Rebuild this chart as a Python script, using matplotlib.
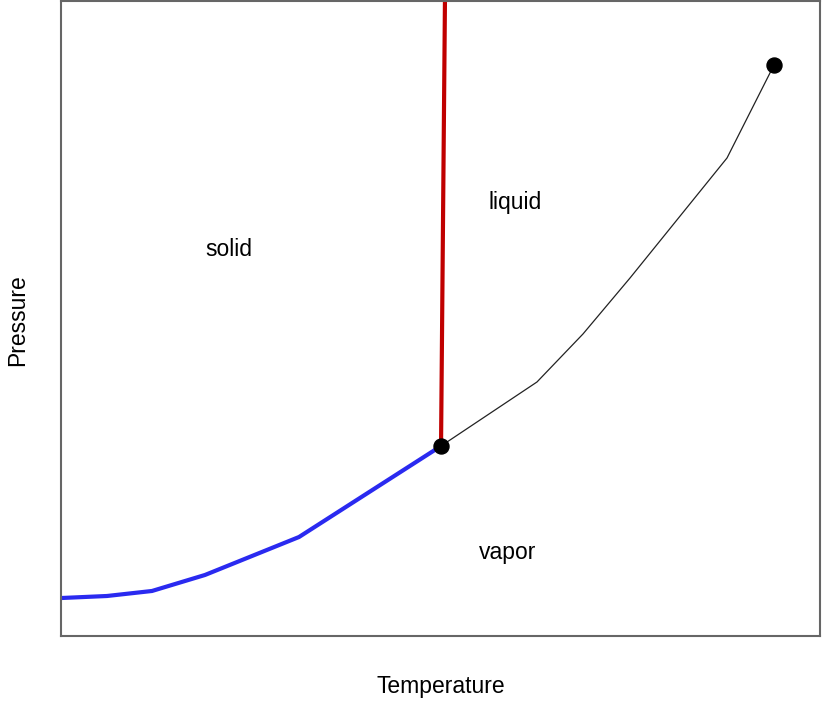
import matplotlib
matplotlib.use("Agg")
import matplotlib.pyplot as plt

plt.rcParams['font.family'] = ['Liberation Sans', 'DejaVu Sans']

# Data (arbitrary units)
sub_T = [0.0, 6.06, 11.99, 18.97, 31.36, 50.07]
sub_P = [5.98, 6.30, 7.09, 9.61, 15.59, 29.92]
vap_T = [50.07, 62.71, 68.77, 74.97, 87.75, 93.94]
vap_P = [29.92, 40.0, 47.56, 56.38, 75.28, 89.92]
melt_T = [50.07, 50.59]
melt_P = [29.92, 100.5]
triple = (50.07, 29.92)
critical = (93.94, 89.92)
labels = [("solid", 22.1, 60.8), ("liquid", 59.8, 68.3), ("vapor", 58.8, 13.2)]

fig = plt.figure(figsize=(8.22, 7.02), dpi=100)
ax = fig.add_axes([61/822, 66/702, 759/822, 635/702])
ax.plot(sub_T, sub_P, color='#2a2af0', lw=3.0, solid_capstyle='butt')
ax.plot(vap_T, vap_P, color='#222222', lw=0.9)
ax.plot(melt_T, melt_P, color='#c00000', lw=3.0, solid_capstyle='butt')
ax.plot([triple[0], critical[0]], [triple[1], critical[1]], 'o', color='black', ms=10.8, zorder=5)
for txt, x, y in labels:
    ax.text(x, y, txt, ha='center', va='center', fontsize=16.5)
ax.set_xlim(0, 100)
ax.set_ylim(0, 100)
ax.set_xticks([])
ax.set_yticks([])
for s in ax.spines.values():
    s.set_color('#666666')
    s.set_linewidth(1.5)
fig.text(441/822, 1 - 686/702, "Temperature", ha='center', va='center', fontsize=16.5)
fig.text(18/822, 1 - 320/702, "Pressure", ha='center', va='center', rotation=90, fontsize=16.5)
fig.savefig("out.png", dpi=100)
